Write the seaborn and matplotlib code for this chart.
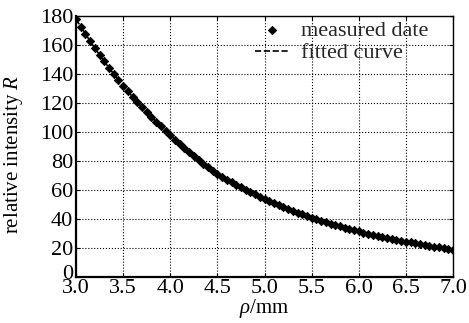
import numpy as np
import pandas as pd
import matplotlib
matplotlib.use("Agg")
import matplotlib.pyplot as plt
import matplotlib.transforms as mtransforms
import seaborn as sns

# measured points (step 0.05 mm)
rho_measured = [3.00, 3.05, 3.10, 3.15, 3.20, 3.25, 3.30, 3.35, 3.40, 3.45,
                3.50, 3.55, 3.60, 3.65, 3.70, 3.75, 3.80, 3.85, 3.90, 3.95,
                4.00, 4.05, 4.10, 4.15, 4.20, 4.25, 4.30, 4.35, 4.40, 4.45,
                4.50, 4.55, 4.60, 4.65, 4.70, 4.75, 4.80, 4.85, 4.90, 4.95,
                5.00, 5.05, 5.10, 5.15, 5.20, 5.25, 5.30, 5.35, 5.40, 5.45,
                5.50, 5.55, 5.60, 5.65, 5.70, 5.75, 5.80, 5.85, 5.90, 5.95,
                6.00, 6.05, 6.10, 6.15, 6.20, 6.25, 6.30, 6.35, 6.40, 6.45,
                6.50, 6.55, 6.60, 6.65, 6.70, 6.75, 6.80, 6.85, 6.90, 6.95,
                7.00]
r_measured = [178.0, 172.8, 167.7, 162.7, 157.9, 153.3, 148.8, 144.4, 140.1, 136.0,
              132.0, 128.1, 124.4, 120.7, 117.2, 113.7, 110.4, 107.1, 104.0, 100.9,
              98.0, 94.9, 91.9, 89.0, 86.1, 83.4, 80.8, 78.2, 75.7, 73.3,
              71.0, 69.1, 67.2, 65.4, 63.6, 61.9, 60.2, 58.6, 57.0, 55.5,
              54.0, 52.5, 51.1, 49.7, 48.4, 47.1, 45.8, 44.5, 43.3, 42.2,
              41.0, 39.9, 38.9, 37.9, 36.9, 35.9, 35.0, 34.1, 33.2, 32.3,
              31.5, 30.7, 30.0, 29.2, 28.5, 27.8, 27.1, 26.4, 25.8, 25.1,
              24.5, 23.9, 23.3, 22.7, 22.1, 21.6, 21.1, 20.5, 20.0, 19.5,
              19.0]

# fitted curve (step 0.1 mm)
rho_fit = [3.0, 3.1, 3.2, 3.3, 3.4, 3.5, 3.6, 3.7, 3.8, 3.9,
           4.0, 4.1, 4.2, 4.3, 4.4, 4.5, 4.6, 4.7, 4.8, 4.9,
           5.0, 5.1, 5.2, 5.3, 5.4, 5.5, 5.6, 5.7, 5.8, 5.9,
           6.0, 6.1, 6.2, 6.3, 6.4, 6.5, 6.6, 6.7, 6.8, 6.9, 7.0]
r_fit = [178.0, 167.7, 157.9, 148.8, 140.1, 132.0, 124.4, 117.2, 110.4, 104.0,
         98.0, 91.9, 86.1, 80.8, 75.7, 71.0, 67.2, 63.6, 60.2, 57.0,
         54.0, 51.1, 48.4, 45.8, 43.3, 41.0, 38.9, 36.9, 35.0, 33.2,
         31.5, 30.0, 28.5, 27.1, 25.8, 24.5, 23.3, 22.1, 21.1, 20.0, 19.0]

x_ticks = [3.0, 3.5, 4.0, 4.5, 5.0, 5.5, 6.0, 6.5, 7.0]
y_ticks = [0, 20, 40, 60, 80, 100, 120, 140, 160, 180]

sns.set_theme(style="ticks")
plt.rcParams['font.family'] = ['Liberation Serif', 'DejaVu Serif']
plt.rcParams['mathtext.fontset'] = 'custom'
plt.rcParams['mathtext.rm'] = 'Liberation Serif'
plt.rcParams['mathtext.it'] = 'Liberation Serif:italic'

df_meas = pd.DataFrame({'rho': rho_measured, 'R': r_measured})
df_fit = pd.DataFrame({'rho': rho_fit, 'R': r_fit})

fig = plt.figure(figsize=(4.69, 3.23), dpi=100)
ax = fig.add_axes([0.162, 0.142, 0.804, 0.808])

sns.lineplot(data=df_fit, x='rho', y='R', ax=ax, color='black',
             linestyle='--', linewidth=1.2, label='fitted curve', zorder=2)
sns.scatterplot(data=df_meas, x='rho', y='R', ax=ax, color='black',
                marker='D', s=18, edgecolor='black', linewidth=0.6,
                label='measured date', zorder=3)

ax.set_xlim(3.0, 7.0)
ax.set_ylim(0, 180)
ax.set_xticks(x_ticks)
ax.set_yticks(y_ticks)
ax.set_xticklabels([f'{t:.1f}' for t in x_ticks])
ax.set_yticklabels([str(t) for t in y_ticks])
ax.grid(True, color='black', linestyle=':', linewidth=0.8)
ax.tick_params(direction='in', length=3, width=0.8, labelsize=16,
               top=True, right=True, colors='black')
ax.tick_params(axis='y', pad=2)
ax.tick_params(axis='x', pad=1)
for side, s in ax.spines.items():
    s.set_color('black')
    s.set_linewidth(1.6 if side in ('left', 'bottom') else 1.0)

# nudge the "0" label up a little so it doesn't sit on top of "3.0"
zero_lbl = ax.get_yticklabels()[0]
zero_lbl.set_transform(zero_lbl.get_transform() +
                       mtransforms.ScaledTranslation(0, 4 / 72, fig.dpi_scale_trans))

ax.set_xlabel(r'$\rho$/mm', fontsize=15, color='black')
ax.xaxis.set_label_coords(0.5, -0.078)
ax.set_ylabel(r'relative intensity $R$', fontsize=15, color='black')
ax.yaxis.set_label_coords(-0.135, 0.47)

handles, labels = ax.get_legend_handles_labels()
order = [labels.index('measured date'), labels.index('fitted curve')]
ax.legend([handles[i] for i in order], [labels[i] for i in order],
          loc='upper right', frameon=False, fontsize=16,
          handlelength=1.6, handletextpad=0.5, borderpad=0.0,
          borderaxespad=0.0, labelspacing=0.1,
          bbox_to_anchor=(0.935, 0.985))

fig.savefig('out.png', dpi=100)
